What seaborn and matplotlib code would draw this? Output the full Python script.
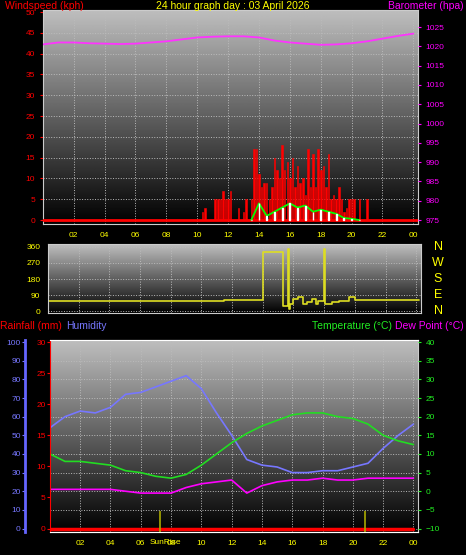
import numpy as np
import matplotlib
matplotlib.use("Agg")
import matplotlib.pyplot as plt
import seaborn as sns
import pandas as pd

sns.set_style("dark")
plt.rcParams['font.family'] = ['Liberation Sans', 'DejaVu Sans']

hours = list(range(25))
pressure = [1020.5,1021,1021,1020.8,1020.7,1020.6,1020.7,1021,1021.3,1021.8,1022.3,1022.5,1022.6,
            1022.6,1022.3,1021.5,1021,1020.7,1020.4,1020.5,1020.8,1021.3,1022,1022.7,1023.3]
gust_t0 = 10.0
gust = [0,0,2,3,0,0,0,5,5,5,7,5,5,7,0,0,3,0,2,5,0,5,17,17,11,8,9,9,5,8,15,12,10,18,12,14,10,15,8,13,
        9,10,6,17,8,16,8,17,12,13,8,16,5,6,5,8,5,2,3,5,5,5,0,5,0,0,5,0]
avg_t = [13.5,14.0,14.5,15.0,15.5,16.0,16.5,17.0,17.5,18.0,18.5,19.0,19.5,20.0,20.5]
avg = [0,4,1,2,3,4,3,3.5,2,2.5,2,1.5,0.5,0.3,0]
dir_t = [0,10,11.5,13.9,14.0,15.3,15.35,15.6,15.65,15.7,15.8,16.0,16.3,16.6,16.9,17.2,17.5,17.6,17.95,18.0,18.05,18.5,19.0,19.5,19.6,20.0,24.2]
dir_v = [55,55,65,65,330,330,30,30,350,10,40,70,80,40,50,70,40,60,60,350,40,50,60,55,80,65,65]
humidity = [54,60,63,62,65,72,73,76,79,82,75,62,50,37,34,33,30,30,31,31,33,35,43,50,56]
temp = [10,8,8,7.5,7,5.5,5,4,3.5,4.5,7,10,13,15.5,17.5,19,20.5,21,21,20,19.5,18,15,13.5,12.5]
dew = [0.5,0.5,0.5,0.5,0.5,0,-0.5,-0.5,-0.5,1,2,2.5,3,-0.5,1.5,2.5,3,3,3.5,3,3,3.5,3.5,3.5,3.5]
rain = [0]*25
sun_events = [7.3, 20.8]
xticks = list(range(2, 25, 2))
xlabels = ["%02d" % (h % 24) for h in xticks]

FS = 6
fig = plt.figure(figsize=(4.66, 5.55), dpi=100, facecolor="black")
grad = np.linspace(0.75, 0.0, 256).reshape(-1, 1)

def style(ax, col):
    ax.set_facecolor("black")
    ax.imshow(grad, cmap="gray", vmin=0, vmax=1, aspect="auto", extent=[0, 1, 0, 1],
              transform=ax.transAxes, zorder=0)
    ax.grid(True, color="#bbbbbb", linestyle=":", linewidth=0.7)
    ax.set_xlim(0, 24.3)
    ax.set_xticks(xticks)
    ax.set_xticklabels(xlabels)
    ax.tick_params(axis="x", colors="#ffff00", labelsize=FS, length=2)
    ax.tick_params(axis="y", colors=col, labelsize=FS, length=2)
    for s in ax.spines.values():
        s.set_color("#cccccc")
    ax.set_xlabel(""); ax.set_ylabel("")

# top
ax1 = fig.add_axes([0.092, 0.596, 0.805, 0.386])
style(ax1, "#ff0000")
ax1.set_ylim(-1, 50.5)
ax1.set_yticks(range(0, 51, 5))
gt = [gust_t0 + i / 6 for i in range(len(gust))]
ax1.bar(gt, gust, width=1/10, color="#ff0000", edgecolor="#ff0000", linewidth=0.4, zorder=3)
ax1.axhline(0, color="#ff0000", lw=2, zorder=3)
sns.lineplot(x=avg_t, y=avg, ax=ax1, color="#00ff00", lw=1.3, zorder=4)
ax1.bar(avg_t, avg, width=0.06, color="#ddffdd", zorder=4)
ax1r = ax1.twinx()
k = 50 / 46.4
ax1r.set_ylim(975 - 1 * k, 975 + 50.5 * k)
sns.lineplot(x=hours, y=pressure, ax=ax1r, color="#ff33ff", lw=1.3)
ax1r.set_yticks(range(975, 1026, 5))
ax1r.tick_params(axis="y", colors="#ff00ff", labelsize=FS, length=2)
ax1r.set_ylabel("")
for s in ax1r.spines.values(): s.set_visible(False)

# middle
ax2 = fig.add_axes([0.103, 0.436, 0.800, 0.124])
style(ax2, "#ffff00")
ax2.set_ylim(-10, 375)
ax2.set_yticks([0, 90, 180, 270, 360])
ax2.tick_params(axis="x", labelbottom=False)
sns.lineplot(x=dir_t, y=dir_v, ax=ax2, color="#dddd22", lw=1.2, drawstyle="steps-post")
for i, c in enumerate("NWSEN"):
    fig.text(0.94, 1 - (247 + i * 16) / 555, c, color="#ffff00", fontsize=9, ha="center", va="center")

# bottom
ax3 = fig.add_axes([0.107, 0.041, 0.790, 0.346])
style(ax3, "#7777ff")
ax3.set_ylim(-2, 101)
ax3.set_yticks(range(0, 101, 10))
ax3.spines["left"].set_position(("outward", 18))
ax3.spines["left"].set_color("#6666ff"); ax3.spines["left"].set_linewidth(2)
ax3.tick_params(axis="y", pad=1)
sns.lineplot(x=hours, y=humidity, ax=ax3, color="#7777ff", lw=1.2)
ax3.set_ylabel("")
ax3r = ax3.twinx()
ax3r.set_ylim(-10 - 1, 40 + 0.5)
sns.lineplot(x=hours, y=temp, ax=ax3r, color="#22dd22", lw=1.2)
sns.lineplot(x=hours, y=dew, ax=ax3r, color="#ff00ff", lw=1.2)
ax3r.set_yticks(range(-10, 41, 5))
ax3r.tick_params(axis="y", colors="#22ee22", labelsize=FS, length=2)
ax3r.set_ylabel("")
for s in ax3r.spines.values(): s.set_visible(False)
ax3rain = ax3.twinx()
ax3rain.set_ylim(-0.6, 30.3)
ax3rain.yaxis.set_ticks_position("left")
ax3rain.spines["left"].set_visible(True); ax3rain.spines["left"].set_color("#ff0000")
ax3rain.spines["right"].set_visible(False)
ax3rain.set_yticks(range(0, 31, 5))
ax3rain.tick_params(axis="y", colors="#ff0000", labelsize=FS, length=2, pad=1)
sns.lineplot(x=hours, y=rain, ax=ax3rain, color="#ff0000", lw=2.5)
ax3rain.set_ylabel("")
for t in sun_events:
    ax3rain.vlines(t, -0.6, 2.8, color="#aaaa00", lw=1.2)
fig.text(0.355, 1 - 543 / 555, "SunRise", color="#ffff00", fontsize=FS, ha="center", va="center")

for a in [ax1, ax2, ax3]:
    for lab in a.get_xticklabels(): lab.set_color("#ffff00")

# titles
TS = 7.5
fig.text(0.01, 0.99, "Windspeed (kph)", color="#ff0000", fontsize=TS, va="center")
fig.text(0.5, 0.99, "24 hour graph day : 03 April 2026", color="#ffff00", fontsize=TS, ha="center", va="center")
fig.text(0.995, 0.99, "Barometer (hpa)", color="#ff00ff", fontsize=TS, ha="right", va="center")
yl = 1 - 326 / 555
fig.text(0.0, yl, "Rainfall (mm)", color="#ff0000", fontsize=TS, va="center")
fig.text(0.142, yl, "Humidity", color="#7777ff", fontsize=TS, va="center")
fig.text(0.67, yl, "Temperature (°C)", color="#22ee22", fontsize=TS, va="center")
fig.text(0.995, yl, "Dew Point (°C)", color="#ff00ff", fontsize=TS, ha="right", va="center")

fig.savefig("out.png", dpi=100, facecolor="black")
